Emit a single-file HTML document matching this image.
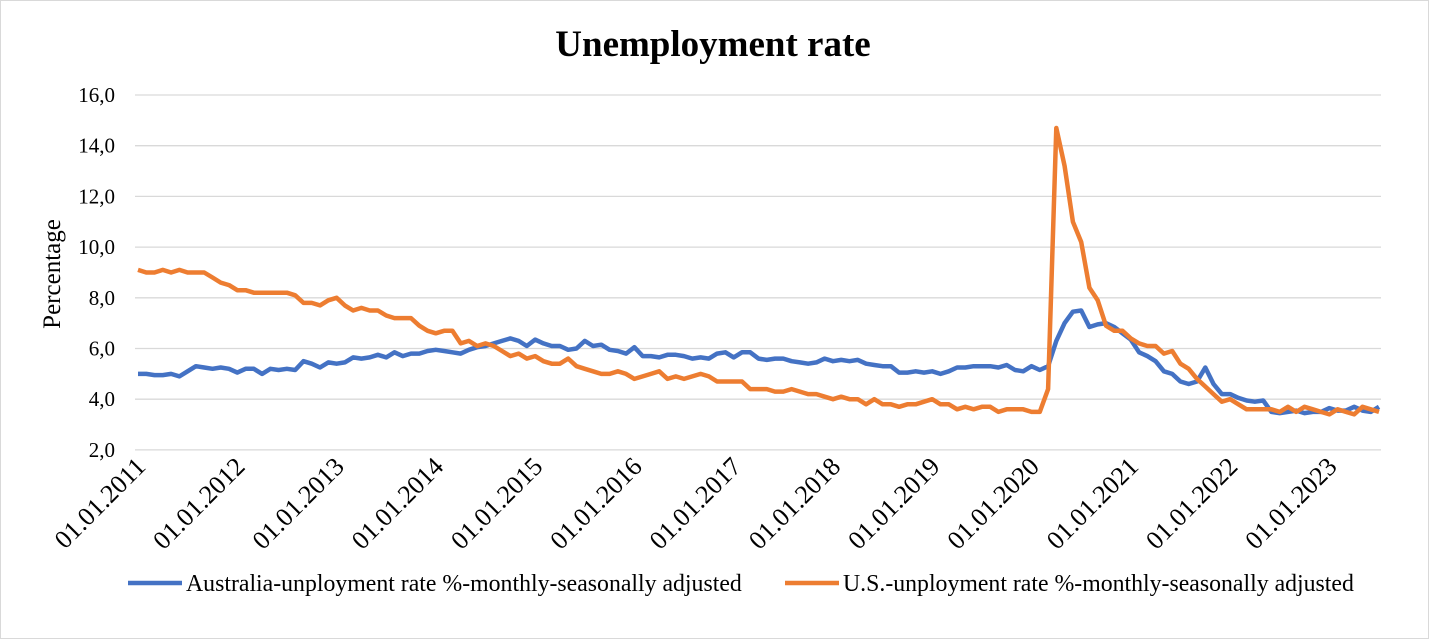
<!DOCTYPE html>
<html><head><meta charset="utf-8"><style>
html,body{margin:0;padding:0;background:#fff;}
svg{display:block;font-family:"Liberation Serif",serif;}
</style></head><body>
<svg id="c" width="1429" height="639" viewBox="0 0 1429 639" xmlns="http://www.w3.org/2000/svg">
<rect x="0.5" y="0.5" width="1428" height="638" fill="#fff" stroke="#d9d9d9"/>
<text x="713" y="56" text-anchor="middle" font-size="37" font-weight="bold">Unemployment rate</text>
<g id="grid" stroke="#d9d9d9" stroke-width="1.3"></g>
<g id="ylab" font-size="21" text-anchor="end"></g>
<text transform="translate(60,274) rotate(-90)" text-anchor="middle" font-size="25">Percentage</text>
<g id="xlab" font-size="26" text-anchor="end"></g>
<path id="au" fill="none" stroke="#4472c4" stroke-width="4.5" stroke-linejoin="round"/>
<path id="us" fill="none" stroke="#ed7d31" stroke-width="4.5" stroke-linejoin="round"/>
<line x1="128" y1="583" x2="182" y2="583" stroke="#4472c4" stroke-width="4.5"/>
<text x="186" y="591" font-size="23.8">Australia-unployment rate %-monthly-seasonally adjusted</text>
<line x1="785" y1="583" x2="839" y2="583" stroke="#ed7d31" stroke-width="4.5"/>
<text x="843" y="591" font-size="23.8">U.S.-unployment rate %-monthly-seasonally adjusted</text>
</svg>
<script>
var us=[9.1,9.0,9.0,9.1,9.0,9.1,9.0,9.0,9.0,8.8,8.6,8.5,
8.3,8.3,8.2,8.2,8.2,8.2,8.2,8.1,7.8,7.8,7.7,7.9,
8.0,7.7,7.5,7.6,7.5,7.5,7.3,7.2,7.2,7.2,6.9,6.7,
6.6,6.7,6.7,6.2,6.3,6.1,6.2,6.1,5.9,5.7,5.8,5.6,
5.7,5.5,5.4,5.4,5.6,5.3,5.2,5.1,5.0,5.0,5.1,5.0,
4.8,4.9,5.0,5.1,4.8,4.9,4.8,4.9,5.0,4.9,4.7,4.7,
4.7,4.7,4.4,4.4,4.4,4.3,4.3,4.4,4.3,4.2,4.2,4.1,
4.0,4.1,4.0,4.0,3.8,4.0,3.8,3.8,3.7,3.8,3.8,3.9,
4.0,3.8,3.8,3.6,3.7,3.6,3.7,3.7,3.5,3.6,3.6,3.6,
3.5,3.5,4.4,14.7,13.2,11.0,10.2,8.4,7.9,6.9,6.7,6.7,
6.4,6.2,6.1,6.1,5.8,5.9,5.4,5.2,4.8,4.5,4.2,3.9,
4.0,3.8,3.6,3.6,3.6,3.6,3.5,3.7,3.5,3.7,3.6,3.5,
3.4,3.6,3.5,3.4,3.7,3.6,3.5];
var au=[5.0,5.0,4.95,4.95,5.0,4.9,5.1,5.3,5.25,5.2,5.25,5.2,
5.05,5.2,5.2,5.0,5.2,5.15,5.2,5.15,5.5,5.4,5.25,5.45,
5.4,5.45,5.65,5.6,5.65,5.75,5.65,5.85,5.7,5.8,5.8,5.9,
5.95,5.9,5.85,5.8,5.95,6.05,6.1,6.2,6.3,6.4,6.3,6.1,
6.35,6.2,6.1,6.1,5.95,6.0,6.3,6.1,6.15,5.95,5.9,5.8,
6.05,5.7,5.7,5.65,5.75,5.75,5.7,5.6,5.65,5.6,5.8,5.85,
5.65,5.85,5.85,5.6,5.55,5.6,5.6,5.5,5.45,5.4,5.45,5.6,
5.5,5.55,5.5,5.55,5.4,5.35,5.3,5.3,5.05,5.05,5.1,5.05,
5.1,5.0,5.1,5.25,5.25,5.3,5.3,5.3,5.25,5.35,5.15,5.1,
5.3,5.15,5.3,6.3,7.0,7.45,7.5,6.85,6.95,7.0,6.85,6.6,
6.35,5.85,5.7,5.5,5.1,5.0,4.7,4.6,4.7,5.25,4.6,4.2,
4.2,4.05,3.95,3.9,3.95,3.5,3.45,3.5,3.55,3.45,3.5,3.5,
3.65,3.55,3.55,3.7,3.55,3.5,3.7];
var x0=138,x1=1379,n=151,st=(x1-x0)/(n-1);
function Y(v){return 95+(16-v)*50.7/2;}
function P(a){return a.map(function(v,i){return (i?'L':'M')+(x0+i*st).toFixed(1)+','+Y(v).toFixed(1);}).join('');}
document.getElementById('us').setAttribute('d',P(us));
document.getElementById('au').setAttribute('d',P(au));
var g='',yl='',xl='';
for(var v=2;v<=16;v+=2){var y=Y(v);g+='<line x1="135" x2="1381" y1="'+y+'" y2="'+y+'"/>';yl+='<text x="115" y="'+(y+7)+'">'+v+',0</text>';}
for(var k=0;k<13;k++){var x=x0+k*12*st;xl+='<text transform="translate('+(x+9)+',468) rotate(-45)">01.01.'+(2011+k)+'</text>';}
document.getElementById('grid').innerHTML=g;
document.getElementById('ylab').innerHTML=yl;
document.getElementById('xlab').innerHTML=xl;
</script>
</body></html>
